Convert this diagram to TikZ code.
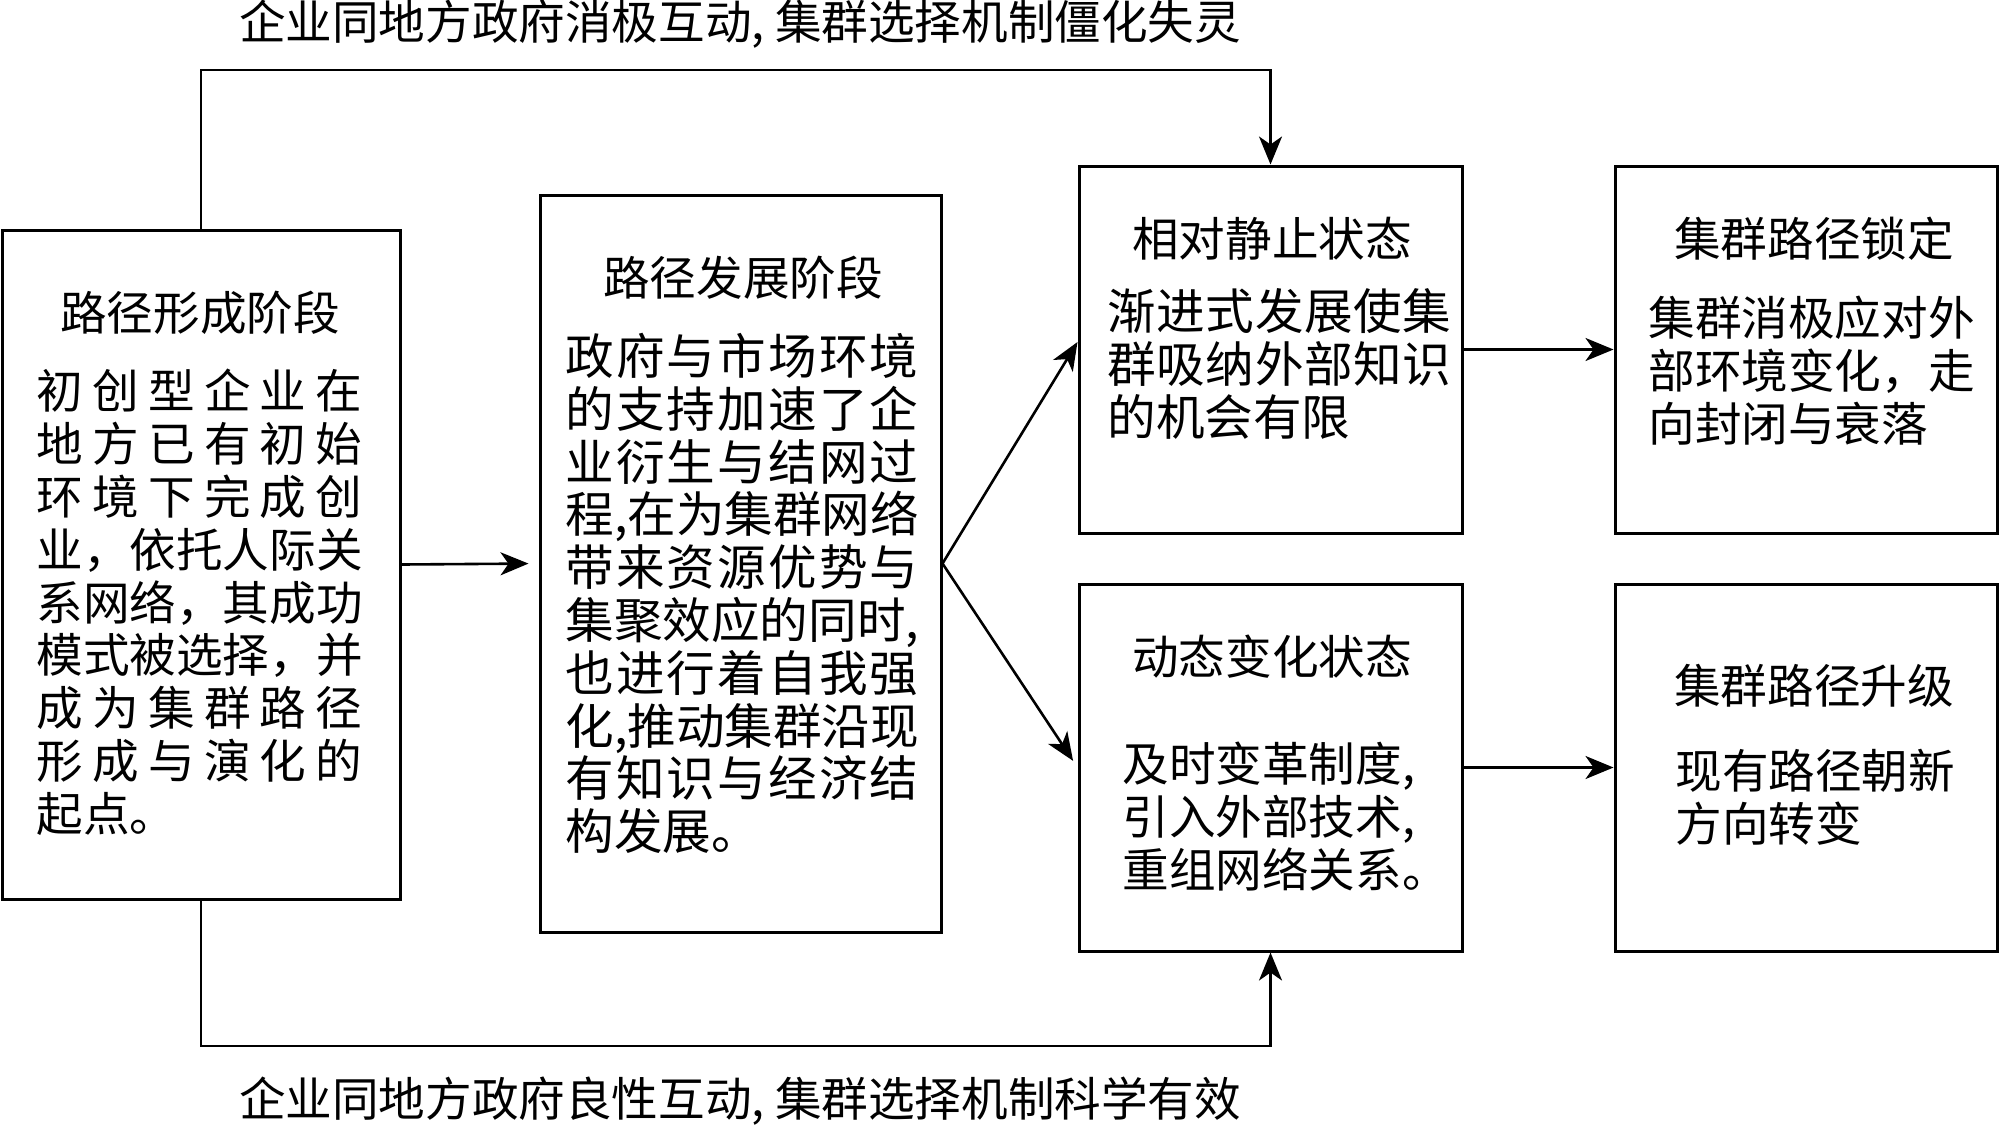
\documentclass[tikz,border=0pt]{standalone}
\usepackage{fontspec}
\newfontfamily\cjk{Noto Sans CJK SC}
\usetikzlibrary{arrows.meta}
\newcommand\jl[2]{\makebox[#1][s]{\spaceskip=0pt plus 1fil\xspaceskip=0pt plus 1fil\relax #2}}
\newcommand\fA{\cjk\fontsize{23.3pt}{26.4pt}\selectfont}
\newcommand\fB{\cjk\fontsize{24.3pt}{26.4pt}\selectfont}
\begin{document}
\begin{tikzpicture}[x=0.5pt,y=-0.5pt,
  box/.style={draw, line width=1.5pt, inner sep=0pt},
  arr/.style={line width=1.3pt, -{Stealth[length=14pt,width=11.5pt,inset=4pt]}},
  ttl/.style={font=\fA, inner sep=0pt, anchor=center},
  body/.style={inner sep=0pt, anchor=north west, align=left},
  lbl/.style={font=\fA, inner sep=0pt, anchor=center},
]
\useasboundingbox (0,0) rectangle (2000,1125);
% boxes
\node[box, minimum width=199pt, minimum height=334.5pt] (b1) at (201,564.5) {};
\node[box, minimum width=200.5pt, minimum height=368.5pt] (b2) at (740.5,563.5) {};
\node[box, minimum width=191.5pt, minimum height=183.5pt] (b3) at (1270.5,349.5) {};
\node[box, minimum width=191.5pt, minimum height=183.5pt] (b4) at (1270.5,767.5) {};
\node[box, minimum width=191pt, minimum height=183.5pt] (b5) at (1806,349.5) {};
\node[box, minimum width=191pt, minimum height=183.5pt] (b6) at (1806,767.5) {};
% titles
\node[ttl] (h1) at (200,312.5) {路径形成阶段};
\node[ttl] (h2) at (743,278) {路径发展阶段};
\node[ttl] (h3) at (1272,238.5) {相对静止状态};
\node[ttl] (h4) at (1272,657) {动态变化状态};
\node[ttl] (h5) at (1814,238.5) {集群路径锁定};
\node[ttl] (h6) at (1814,686) {集群路径升级};
% bodies
\node[body, font=\fA, text width=165pt] (t1) at (36,369) {%
\jl{163pt}{初 创 型 企 业 在}\\
\jl{163pt}{地 方 已 有 初 始}\\
\jl{163pt}{环 境 下 完 成 创}\\
业，依托人际关\\
系网络，其成功\\
模式被选择，并\\
\jl{163pt}{成 为 集 群 路 径}\\
\jl{163pt}{形 成 与 演 化 的}\\
起点。};
\node[body, font=\fB, text width=178pt] (t2) at (565,332.7) {%
\jl{176.5pt}{政 府 与 市 场 环 境}\\
\jl{176.5pt}{的 支 持 加 速 了 企}\\
\jl{176.5pt}{业 衍 生 与 结 网 过}\\
\jl{176.5pt}{程, 在为集群网络}\\
\jl{176.5pt}{带 来 资 源 优 势 与}\\
\jl{176.5pt}{集 聚 效 应 的 同 时,}\\
\jl{176.5pt}{也 进 行 着 自 我 强}\\
\jl{176.5pt}{化, 推动集群沿现}\\
\jl{176.5pt}{有 知 识 与 经 济 结}\\
构发展。};
\node[body, font=\fB, text width=174pt] (t3) at (1107,288) {%
\jl{172pt}{渐 进 式 发 展 使 集}\\
\jl{172pt}{群 吸 纳 外 部 知 识}\\
的机会有限};
\node[body, font=\fA, text width=170pt] (t4) at (1122,741.7) {%
及时变革制度,\\
引入外部技术,\\
重组网络关系。};
\node[body, font=\fA, text width=170pt] (t5) at (1648,295.7) {%
集群消极应对外\\
部环境变化，走\\
向封闭与衰落};
\node[body, font=\fA, text width=170pt] (t6) at (1675,748.7) {%
现有路径朝新\\
方向转变};
% labels
\node[lbl] (top) at (740,24) {企业同地方政府消极互动, 集群选择机制僵化失灵};
\node[lbl] (bot) at (740,1101) {企业同地方政府良性互动, 集群选择机制科学有效};
% connectors
\coordinate (topy) at (0,70);
\coordinate (boty) at (0,1046);
\draw[arr] (b1.north) -- (b1.north |- topy) -| (b3.north);
\draw[arr] (b1.south) -- (b1.south |- boty) -| (b4.south);
\draw[arr, shorten >=5pt] (b1.east) -- (b2.west);
\draw[arr] (b2.east) -- ([yshift=3.75pt]b3.west);
\draw[arr, shorten >=4pt] (b2.east) -- (b4.west);
\draw[arr] (b3.east) -- (b5.west);
\draw[arr] (b4.east) -- (b6.west);
\end{tikzpicture}
\end{document}
